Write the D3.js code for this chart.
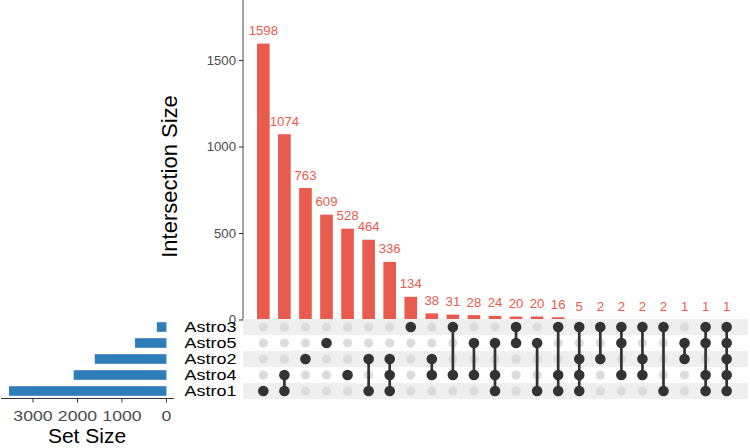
<!DOCTYPE html>
<html>
<head>
<meta charset="utf-8">
<script src="https://cdn.jsdelivr.net/npm/d3@7"></script>
<style>
  html, body { margin: 0; padding: 0; background: #fff; }
  svg { display: block; font-family: "Liberation Sans", Arial, Helvetica, sans-serif; }
</style>
</head>
<body>
<svg id="chart" width="750" height="448"></svg>
<script>
// ---- data ----
const setNames = ["Astro3", "Astro5", "Astro2", "Astro4", "Astro1"]; // top to bottom
const setSizes = [216, 706, 1612, 2086, 3541];
const intersectionSizes = [1598, 1074, 763, 609, 528, 464, 336, 134, 38, 31, 28, 24, 20, 20, 16, 5, 2, 2, 2, 2, 1, 1, 1];
const intersectionMembers = [
  ["Astro1"],
  ["Astro4", "Astro1"],
  ["Astro2"],
  ["Astro5"],
  ["Astro4"],
  ["Astro2", "Astro1"],
  ["Astro2", "Astro4", "Astro1"],
  ["Astro3"],
  ["Astro2", "Astro4"],
  ["Astro3", "Astro4"],
  ["Astro5", "Astro4"],
  ["Astro5", "Astro4", "Astro1"],
  ["Astro3", "Astro5"],
  ["Astro5", "Astro1"],
  ["Astro3", "Astro4", "Astro1"],
  ["Astro3", "Astro2", "Astro4", "Astro1"],
  ["Astro3", "Astro2"],
  ["Astro3", "Astro5", "Astro4"],
  ["Astro3", "Astro2", "Astro4"],
  ["Astro3", "Astro1"],
  ["Astro5", "Astro2"],
  ["Astro3", "Astro5", "Astro4", "Astro1"],
  ["Astro3", "Astro5", "Astro2", "Astro4", "Astro1"]
];
const intersectionTicks = [0, 500, 1000, 1500];
const setSizeTicks = [0, 1000, 2000, 3000];

(function () {
// ---- styles ----
const RED = "#e95b4f", BLUE = "#2e7db6", DARK = "#333333", LIGHT = "#dcdcdc", STRIPE = "#efefef";
const svg = d3.select("#chart");

function label(g, x, y, text, size, sx, anchor, fill) {
  return g.append("text")
    .attr("transform", `translate(${x},${y}) scale(${sx},1)`)
    .attr("text-anchor", anchor)
    .attr("font-size", size)
    .attr("fill", fill)
    .text(text);
}

// ---- scales ----
const cols = d3.range(intersectionSizes.length);
const x = d3.scaleBand().domain(cols).range([252.8, 737.2]).paddingInner(0.4).paddingOuter(0.2);
const y = d3.scaleLinear().domain([0, 1850]).range([320, 0]);
const row = d3.scaleBand().domain(setNames).range([319, 399]);
const xs = d3.scaleLinear().domain([3720, -170]).range([1, 174]);

// ---- top: intersection bars ----
const topG = svg.append("g");
topG.append("line").attr("x1", 243).attr("x2", 243).attr("y1", 0).attr("y2", 320)
  .attr("stroke", "#555").attr("stroke-width", 1.1);
intersectionTicks.forEach(t => {
  topG.append("line").attr("x1", 239).attr("x2", 243).attr("y1", y(t)).attr("y2", y(t))
    .attr("stroke", "#333").attr("stroke-width", 1);
  label(topG, 236, y(t) + 4, t, 12, 1.1, "end", "#4d4d4d");
});
topG.selectAll("rect.bar").data(intersectionSizes).join("rect").attr("class", "bar")
  .attr("x", (d, i) => x(i)).attr("width", x.bandwidth())
  .attr("y", d => y(d)).attr("height", d => y(0) - y(d))
  .attr("fill", RED);
intersectionSizes.forEach((d, i) => {
  label(topG, x(i) + x.bandwidth() / 2, y(d) - 8.5, d, 12, 1.1, "middle", RED);
});
svg.append("text")
  .attr("transform", "translate(177,176.5) rotate(-90)")
  .attr("text-anchor", "middle").attr("font-size", 22).attr("fill", "#000")
  .text("Intersection Size");

// ---- matrix ----
const mat = svg.append("g");
setNames.forEach((s, i) => {
  if (i % 2 === 0) {
    mat.append("rect").attr("x", 243).attr("width", 748 - 243)
      .attr("y", row(s)).attr("height", row.bandwidth()).attr("fill", STRIPE);
  }
  label(mat, 236.5, row(s) + row.bandwidth() / 2 + 5.3, s, 15, 1.2, "end", "#000");
});
const cy = s => row(s) + row.bandwidth() / 2;
cols.forEach(i => {
  const cx = x(i) + x.bandwidth() / 2;
  const mem = intersectionMembers[i];
  setNames.forEach(s => {
    if (!mem.includes(s)) {
      mat.append("circle").attr("cx", cx).attr("cy", cy(s)).attr("r", 4.6).attr("fill", LIGHT);
    }
  });
  const ys = mem.map(cy);
  if (mem.length > 1) {
    mat.append("line").attr("x1", cx).attr("x2", cx)
      .attr("y1", d3.min(ys)).attr("y2", d3.max(ys))
      .attr("stroke", DARK).attr("stroke-width", 2.7);
  }
  mem.forEach(s => {
    mat.append("circle").attr("cx", cx).attr("cy", cy(s)).attr("r", 5.3).attr("fill", DARK);
  });
});

// ---- left: set sizes ----
const leftG = svg.append("g");
leftG.selectAll("rect.sbar").data(setSizes).join("rect").attr("class", "sbar")
  .attr("x", d => xs(d)).attr("width", d => xs(0) - xs(d))
  .attr("y", (d, i) => cy(setNames[i]) - 4.8).attr("height", 9.6)
  .attr("fill", BLUE);
leftG.append("line").attr("x1", xs.range()[0]).attr("x2", xs.range()[1])
  .attr("y1", 398.5).attr("y2", 398.5).attr("stroke", "#333").attr("stroke-width", 1.1);
setSizeTicks.forEach(t => {
  leftG.append("line").attr("x1", xs(t)).attr("x2", xs(t)).attr("y1", 398.5).attr("y2", 402.5)
    .attr("stroke", "#333").attr("stroke-width", 1);
  label(leftG, xs(t), 421, t, 15, 1.18, "middle", "#4d4d4d");
});
svg.append("text").attr("x", 87).attr("y", 443)
  .attr("text-anchor", "middle").attr("font-size", 21).attr("fill", "#000")
  .text("Set Size");
})();
</script>
</body>
</html>
